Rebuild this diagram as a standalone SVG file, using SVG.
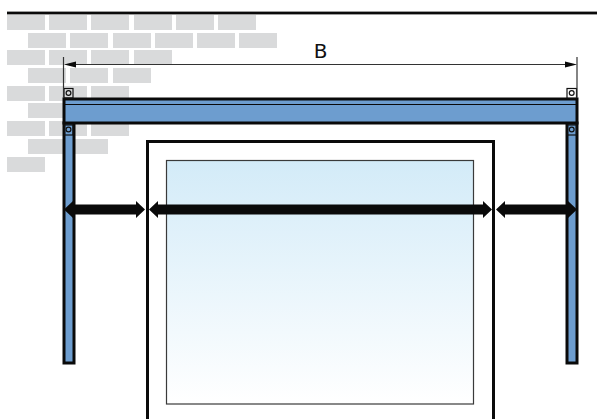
<svg xmlns="http://www.w3.org/2000/svg" width="597" height="419" viewBox="0 0 597 419">
<style>
.b{fill:#d9dadb}
.s{fill:#6d9dcf;stroke:#0a0a0a;stroke-width:3}
.h{fill:#0a0a0a}
.t{stroke:#111;stroke-width:1.2}
.d{stroke:#333;stroke-width:1.2}
</style>
<defs>
<linearGradient id="g" x1="0" y1="0" x2="0" y2="1"><stop offset="0" stop-color="#d3ebf8"/><stop offset="1" stop-color="#fff"/></linearGradient>
<rect id="r" width="38" height="15" class="b"/>
</defs>
<g id="wall">
<use href="#r" x="7" y="15"/><use href="#r" x="49" y="15"/><use href="#r" x="91" y="15"/><use href="#r" x="134" y="15"/><use href="#r" x="176" y="15"/><use href="#r" x="218" y="15"/>
<use href="#r" x="28" y="33"/><use href="#r" x="70" y="33"/><use href="#r" x="113" y="33"/><use href="#r" x="155" y="33"/><use href="#r" x="197" y="33"/><use href="#r" x="239" y="33"/>
<use href="#r" x="7" y="50"/><use href="#r" x="49" y="50"/><use href="#r" x="91" y="50"/><use href="#r" x="134" y="50"/>
<use href="#r" x="28" y="68"/><use href="#r" x="70" y="68"/><use href="#r" x="113" y="68"/>
<use href="#r" x="7" y="86"/><use href="#r" x="49" y="86"/><use href="#r" x="91" y="86"/>
<use href="#r" x="28" y="103"/>
<use href="#r" x="7" y="121"/><use href="#r" x="49" y="121"/><use href="#r" x="91" y="121"/>
<use href="#r" x="28" y="139"/><use href="#r" x="70" y="139"/>
<use href="#r" x="7" y="157"/>
<rect x="7" y="11.6" width="590" height="2.8" fill="#0a0a0a"/>
</g>
<g id="post-left"><rect class="s" x="64" y="123" width="10" height="240"/></g>
<g id="post-right"><rect class="s" x="567" y="123" width="10" height="240"/></g>
<g id="beam"><rect class="s" x="64" y="99" width="513" height="24"/><line x1="64" y1="104.5" x2="577" y2="104.5" stroke="#0a0a0a" stroke-width="1"/></g>
<g id="brackets">
<rect class="t" x="64" y="88.5" width="9" height="9.5" fill="none"/><circle class="t" cx="68.5" cy="93" r="2.4" fill="none"/>
<rect class="t" x="64.5" y="125" width="8.5" height="10" fill="none"/><circle class="t" cx="68.5" cy="129.5" r="2.4" fill="none"/>
<rect class="t" x="567" y="88.5" width="9.5" height="9.5" fill="#fff"/><circle class="t" cx="571.7" cy="93" r="2.4" fill="none"/>
<rect class="t" x="567" y="125" width="9.5" height="10" fill="none"/><circle class="t" cx="571.7" cy="129.5" r="2.4" fill="none"/>
</g>
<g id="window">
<rect x="147.5" y="141.5" width="346" height="290" fill="#fff" stroke="#0a0a0a" stroke-width="3"/>
<rect x="166.5" y="160.5" width="307" height="243.5" fill="url(#g)" stroke="#3a3a3a" stroke-width="1.2"/>
</g>
<g id="connectors">
<line class="d" x1="63.5" y1="57" x2="63.5" y2="98"/>
<line class="d" x1="577" y1="57" x2="577" y2="98"/>
<line class="d" x1="74" y1="64.5" x2="566" y2="64.5"/>
<path class="h" d="M64 64.5L76 61.5V67.5Z"/>
<path class="h" d="M577 64.5L565 61.5V67.5Z"/>
<path class="h" d="M64 209.5L73 201V204.5H136V201L145 209.5L136 218V214.5H73V218Z"/>
<path class="h" d="M149 209.5L158 201V204.5H483V201L492 209.5L483 218V214.5H158V218Z"/>
<path class="h" d="M496 209.5L505 201V204.5H568V201L577 209.5L568 218V214.5H505V218Z"/>
</g>
<text x="320.5" y="58" font-family="DejaVu Sans, sans-serif" font-size="20" text-anchor="middle" fill="#111">B</text>
</svg>
